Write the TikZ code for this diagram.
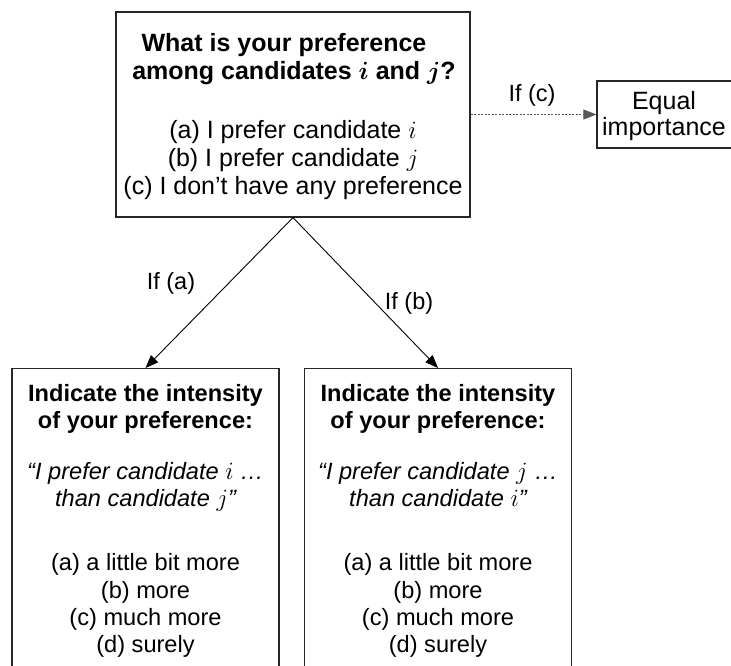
\documentclass[tikz,border=0pt]{standalone}
\usepackage{amsmath}
\usepackage{fontspec}
\setmainfont{Liberation Sans}
\usetikzlibrary{arrows.meta}
\begin{document}
\begin{tikzpicture}[x=1pt,y=-1pt,
  boxst/.style={draw=black!85, line width=1.2pt, inner sep=0pt, fill=none},
  tA/.style={anchor=base, inner sep=0pt, font=\fontsize{25}{28}\selectfont},
  tB/.style={anchor=base, inner sep=0pt, font=\fontsize{23.6}{27}\selectfont},
  lbl/.style={anchor=base, inner sep=0pt, font=\fontsize{23.5}{27}\selectfont},
  arr/.style={draw=black, line width=0.9pt, -{Triangle[length=13pt,width=10pt]}},
  darr/.style={draw=black!65, line width=0.9pt, dash pattern=on 2pt off 1.5pt, -{Triangle[length=13pt,width=10pt]}}
]
\useasboundingbox (0,0) rectangle (731,666);

% top box
\node[boxst, minimum width=354pt, minimum height=205pt] (top) at (293,114.5) {};
\node[tA] (t1) at (284,52) {\bfseries What is your preference};
\node[tA] (t2) at (294,80) {\bfseries among candidates $\boldsymbol{i}$ and $\boldsymbol{j}$?};
\node[tA] (t3) at (293,139) {(a) I prefer candidate $i$};
\node[tA] (t4) at (293,167) {(b) I prefer candidate $j$};
\node[tA] (t5) at (293,194) {(c) I don’t have any preference};

% equal importance
\node[boxst, minimum width=135pt, minimum height=67pt] (eq) at (664.5,114.5) {};
\node[tA] (e1) at (664,110) {Equal};
\node[tA] (e2) at (664,136) {importance};

% bottom boxes
\node[boxst, minimum width=267pt, minimum height=330pt, anchor=north] (L) at (145.5,368) {};
\node[boxst, minimum width=267pt, minimum height=330pt, anchor=north] (R) at (438,368) {};

\node[tB] (l1) at (145.5,401) {\bfseries Indicate the intensity};
\node[tB] (l2) at (145.5,428) {\bfseries of your preference:};
\node[tB] (l3) at (145.5,479) {\itshape “I prefer candidate $i$ \ldots};
\node[tB] (l4) at (145.5,506) {\itshape than candidate $j$”};
\node[tB] (l5) at (145.5,570) {(a) a little bit more};
\node[tB] (l6) at (145.5,598) {(b) more};
\node[tB] (l7) at (145.5,625) {(c) much more};
\node[tB] (l8) at (145.5,652) {(d) surely};

\node[tB] (r1) at (438,401) {\bfseries Indicate the intensity};
\node[tB] (r2) at (438,428) {\bfseries of your preference:};
\node[tB] (r3) at (438,479) {\itshape “I prefer candidate $j$ \ldots};
\node[tB] (r4) at (438,506) {\itshape than candidate $i$”};
\node[tB] (r5) at (438,570) {(a) a little bit more};
\node[tB] (r6) at (438,598) {(b) more};
\node[tB] (r7) at (438,625) {(c) much more};
\node[tB] (r8) at (438,652) {(d) surely};

% connectors
\draw[arr] (top.south) -- (L.north);
\draw[arr] (top.south) -- (R.north);
\draw[darr] (top.east) -- (eq.west);

% labels
\node[lbl] (la) at (171,289) {If (a)};
\node[lbl] (lb) at (409,309) {If (b)};
\node[lbl] (lc) at (532,102) {If (c)};
\end{tikzpicture}
\end{document}
